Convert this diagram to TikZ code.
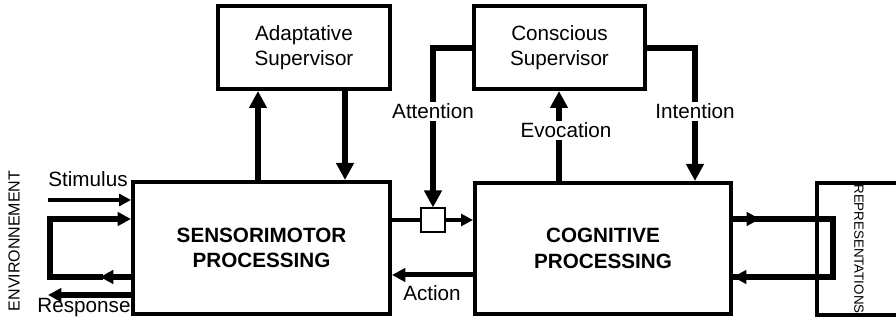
\documentclass[tikz,border=0pt]{standalone}
\usepackage{fontspec}
\setmainfont{Liberation Sans}
\usetikzlibrary{arrows.meta}

\tikzset{
  blockbox/.style={draw, line width=3pt, align=center, inner sep=0pt, font=\fontsize{15.5}{19}\selectfont},
  bigarrow/.style={line width=4.5pt, -{Triangle[length=12.75pt,width=12.75pt]}},
  midarrow/.style={line width=3.75pt, -{Triangle[length=10pt,width=10pt]}},
  smallarrow/.style={line width=3pt, -{Triangle[length=9pt,width=9pt]}},
  flowlabel/.style={fill=white, inner sep=1.5pt, font=\fontsize{15.5}{19}\selectfont}
}

\begin{document}
\begin{tikzpicture}[x=0.75pt,y=0.75pt,yscale=-1,xscale=1]
\useasboundingbox (0,0) rectangle (896,323);

%Shape: Rectangle
\node [blockbox, minimum width=192.75pt, minimum height=99pt] (sm) at (261.5,248) {\bfseries SENSORIMOTOR\\\bfseries PROCESSING};
%Shape: Rectangle
\node [blockbox, minimum width=192pt, minimum height=98.25pt] (cog) at (603,248.5) {\bfseries COGNITIVE\\\bfseries PROCESSING};
%Shape: Rectangle
\node [blockbox, minimum width=129pt, minimum height=62.25pt] (adapt) at (304,47.5) {Adaptative\\Supervisor};
%Shape: Rectangle
\node [blockbox, minimum width=128.25pt, minimum height=62.25pt] (consc) at (559.5,47.5) {Conscious\\Supervisor};
%Shape: Rectangle
\node [blockbox, rotate=-90, minimum width=99pt, minimum height=63pt, font=\fontsize{10}{12}\selectfont] (repr) at (859,249) {REPRESENTATIONS};
%Shape: Square
\node [draw, fill=white, line width=0.8pt, minimum size=18pt, inner sep=0pt] (gate) at (433,220) {};

% Text Node
\node [rotate=90, font=\fontsize{12}{14}\selectfont] (env) at (14,241) {ENVIRONNEMENT};
% Text Node
\node [anchor=base, font=\fontsize{15.5}{19}\selectfont, inner sep=0pt] (stim) at (88,187) {Stimulus};
% Text Node
\node [anchor=base, font=\fontsize{15.5}{19}\selectfont, inner sep=0pt] (resp) at (84,313) {Response};

\coordinate (envin) at (48,200);
\coordinate (envout) at (48,295);
\coordinate (loopa) at (50,219);
\coordinate (loopb) at (50,277);
\coordinate (loopm) at (100,277);
\coordinate (repa) at (833,219);
\coordinate (repb) at (833,277);
\coordinate (repm) at (760,219);

%Straight Lines
\draw [smallarrow] (envin) -- (sm.west |- envin);
\draw [midarrow, line width=4pt] (loopa) -- (sm.west |- loopa);
\draw [line width=4pt, line cap=rect] (loopm) -- (loopb) -- (loopa);
\draw [midarrow, line width=4pt] (sm.west |- loopb) -- (loopm);
\draw [midarrow, line width=4pt] (sm.west |- envout) -- (envout);

%Straight Lines
\draw [bigarrow] (sm.north -| 258,0) -- (adapt.south -| 258,0);
\draw [bigarrow] (adapt.south -| 345,0) -- (sm.north -| 345,0);

%Straight Lines
\draw [line width=3pt] (sm.east |- gate) -- (gate.west);
\draw [smallarrow] (gate.east) -- (cog.west |- gate);
\draw [midarrow] (cog.west |- 0,275) -- (sm.east |- 0,275);

%Straight Lines
\draw [bigarrow] (consc.west |- 0,48) -| (gate.north);
\draw [bigarrow] (cog.north -| 559,0) -- (consc.south -| 559,0);
\draw [bigarrow] (consc.east |- 0,48) -| (cog.north -| 695,0);

%Straight Lines
\draw [line width=4pt, line cap=rect] (cog.east |- repa) -- (repa) -- (repb) -- (cog.east |- repb);
\draw [midarrow, line width=4pt] (cog.east |- repa) -- (repm);
\draw [midarrow, line width=4pt] (repb) -- (cog.east |- repb);

% Text Node
\node [flowlabel, anchor=base] (att) at (433,119) {Attention};
% Text Node
\node [flowlabel, anchor=base] (evo) at (566,138) {Evocation};
% Text Node
\node [flowlabel, anchor=base] (intn) at (695,119) {Intention};
% Text Node
\node [anchor=base, inner sep=0pt, font=\fontsize{15.5}{19}\selectfont] (act) at (432,301) {Action};

\end{tikzpicture}
\end{document}
